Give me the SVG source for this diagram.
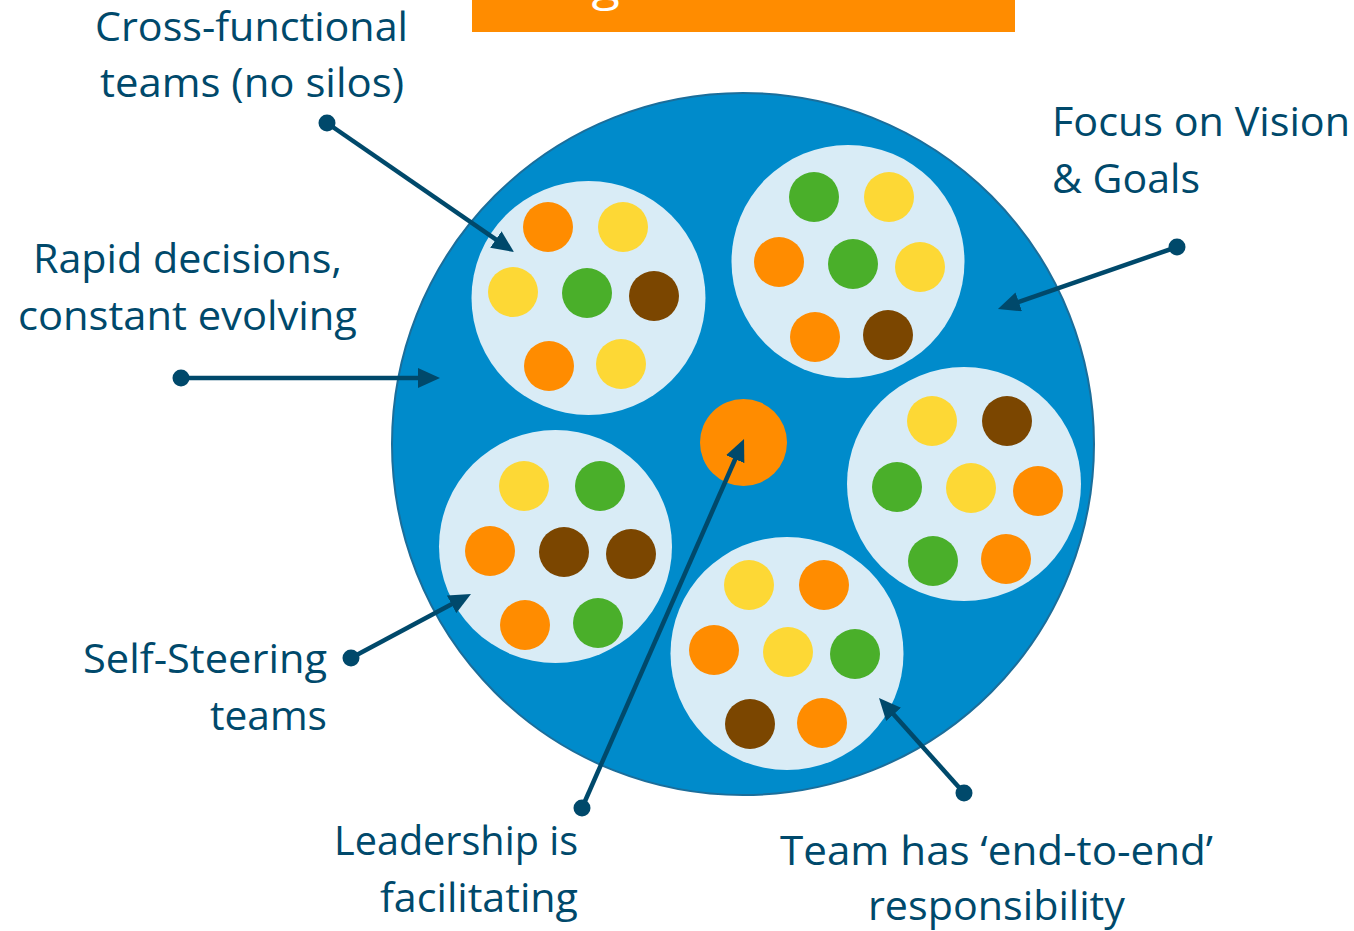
<svg xmlns="http://www.w3.org/2000/svg" width="1354" height="931" viewBox="0 0 1354 931">
<style>
.lbl{font-family:"Open Sans","Noto Sans","Liberation Sans",sans-serif;font-size:41px;fill:#00496B}
.team{fill:#D9ECF6}
.o{fill:#FF8C00}.y{fill:#FDD835}.g{fill:#4AAF2A}.b{fill:#7B4600}
.conn{stroke:#00496B;stroke-width:4.5;fill:none;marker-end:url(#ah)}
.dot{fill:#00496B}
</style>
<defs>
<marker id="ah" viewBox="0 0 22 20" refX="10" refY="10" markerWidth="22" markerHeight="20" markerUnits="userSpaceOnUse" orient="auto">
<path d="M0,0 L22,10 L0,20 z" fill="#00496B"/>
</marker>
</defs>
<rect width="1354" height="931" fill="#FFFFFF"/>
<g id="banner">
<rect x="472" y="-10" width="543" height="42" fill="#FF8C00"/>
<text x="743" y="0" text-anchor="middle" textLength="427" lengthAdjust="spacingAndGlyphs" style="font-family:'Open Sans','Noto Sans',sans-serif;font-size:44px;fill:#FFFFFF">Organic structure</text>
</g>
<g id="organisation">
<circle cx="743" cy="444" r="351" fill="#008BCB" stroke="#1B6E9B" stroke-width="2"/>
</g>
<g id="leader">
<circle cx="743.5" cy="442.5" r="43.5" fill="#FF8C00"/>
</g>
<g id="team1">
<circle class="team" cx="588.5" cy="298" r="117"/>
<circle class="o" cx="548" cy="227" r="25"/>
<circle class="y" cx="623" cy="227" r="25"/>
<circle class="y" cx="513" cy="292" r="25"/>
<circle class="g" cx="587" cy="293" r="25"/>
<circle class="b" cx="654" cy="296" r="25"/>
<circle class="o" cx="549" cy="366" r="25"/>
<circle class="y" cx="621" cy="364" r="25"/>
</g>
<g id="team2">
<circle class="team" cx="848" cy="261.5" r="116.5"/>
<circle class="g" cx="814" cy="197" r="25"/>
<circle class="y" cx="889" cy="197" r="25"/>
<circle class="o" cx="779" cy="262" r="25"/>
<circle class="g" cx="853" cy="264" r="25"/>
<circle class="y" cx="920" cy="267" r="25"/>
<circle class="o" cx="815" cy="337" r="25"/>
<circle class="b" cx="888" cy="335" r="25"/>
</g>
<g id="team3">
<circle class="team" cx="555.5" cy="546.5" r="116.5"/>
<circle class="y" cx="524" cy="486" r="25"/>
<circle class="g" cx="600" cy="486" r="25"/>
<circle class="o" cx="490" cy="551" r="25"/>
<circle class="b" cx="564" cy="552" r="25"/>
<circle class="b" cx="631" cy="554" r="25"/>
<circle class="o" cx="525" cy="625" r="25"/>
<circle class="g" cx="598" cy="623" r="25"/>
</g>
<g id="team4">
<circle class="team" cx="964" cy="484" r="117"/>
<circle class="y" cx="932" cy="421" r="25"/>
<circle class="b" cx="1007" cy="421" r="25"/>
<circle class="g" cx="897" cy="487" r="25"/>
<circle class="y" cx="971" cy="488" r="25"/>
<circle class="o" cx="1038" cy="491" r="25"/>
<circle class="g" cx="933" cy="561" r="25"/>
<circle class="o" cx="1006" cy="559" r="25"/>
</g>
<g id="team5">
<circle class="team" cx="787" cy="653.5" r="116.5"/>
<circle class="y" cx="749" cy="585" r="25"/>
<circle class="o" cx="824" cy="585" r="25"/>
<circle class="o" cx="714" cy="650" r="25"/>
<circle class="y" cx="788" cy="652" r="25"/>
<circle class="g" cx="855" cy="654" r="25"/>
<circle class="b" cx="750" cy="724" r="25"/>
<circle class="o" cx="822" cy="723" r="25"/>
</g>
<g id="connectors">
<line class="conn" x1="327" y1="123" x2="504.1" y2="245.2"/>
<circle class="dot" cx="327" cy="123" r="8.5"/>
<line class="conn" x1="181" y1="378" x2="428" y2="378"/>
<circle class="dot" cx="181" cy="378" r="8.5"/>
<line class="conn" x1="1177" y1="247" x2="1009.3" y2="305.1"/>
<circle class="dot" cx="1177" cy="247" r="8.5"/>
<line class="conn" x1="351" y1="658" x2="460.4" y2="599.6"/>
<circle class="dot" cx="351" cy="658" r="8.5"/>
<line class="conn" x1="582" y1="808" x2="739.2" y2="450"/>
<circle class="dot" cx="582" cy="808" r="8.5"/>
<line class="conn" x1="964" y1="793" x2="887" y2="706.9"/>
<circle class="dot" cx="964" cy="793" r="8.5"/>
</g>
<g id="label-cross">
<text class="lbl" x="251.5" y="41" text-anchor="middle" textLength="313" lengthAdjust="spacingAndGlyphs">Cross-functional</text>
<text class="lbl" x="252" y="97" text-anchor="middle" textLength="304" lengthAdjust="spacingAndGlyphs">teams (no silos)</text>
</g>
<g id="label-rapid">
<text class="lbl" x="187.5" y="273" text-anchor="middle" textLength="309" lengthAdjust="spacingAndGlyphs">Rapid decisions,</text>
<text class="lbl" x="187.5" y="330" text-anchor="middle" textLength="339" lengthAdjust="spacingAndGlyphs">constant evolving</text>
</g>
<g id="label-focus">
<text class="lbl" x="1052" y="136" textLength="298" lengthAdjust="spacingAndGlyphs">Focus on Vision</text>
<text class="lbl" x="1052" y="193" textLength="148" lengthAdjust="spacingAndGlyphs">&amp; Goals</text>
</g>
<g id="label-self">
<text class="lbl" x="327" y="673" text-anchor="end" textLength="244" lengthAdjust="spacingAndGlyphs">Self-Steering</text>
<text class="lbl" x="327" y="730" text-anchor="end" textLength="117" lengthAdjust="spacingAndGlyphs">teams</text>
</g>
<g id="label-leadership">
<text class="lbl" x="578" y="855" text-anchor="end" textLength="244" lengthAdjust="spacingAndGlyphs">Leadership is</text>
<text class="lbl" x="578" y="912" text-anchor="end" textLength="198" lengthAdjust="spacingAndGlyphs">facilitating</text>
</g>
<g id="label-team">
<text class="lbl" x="996.5" y="865" text-anchor="middle" textLength="433" lengthAdjust="spacingAndGlyphs">Team has ‘end-to-end’</text>
<text class="lbl" x="996.5" y="920" text-anchor="middle" textLength="257" lengthAdjust="spacingAndGlyphs">responsibility</text>
</g>
</svg>
